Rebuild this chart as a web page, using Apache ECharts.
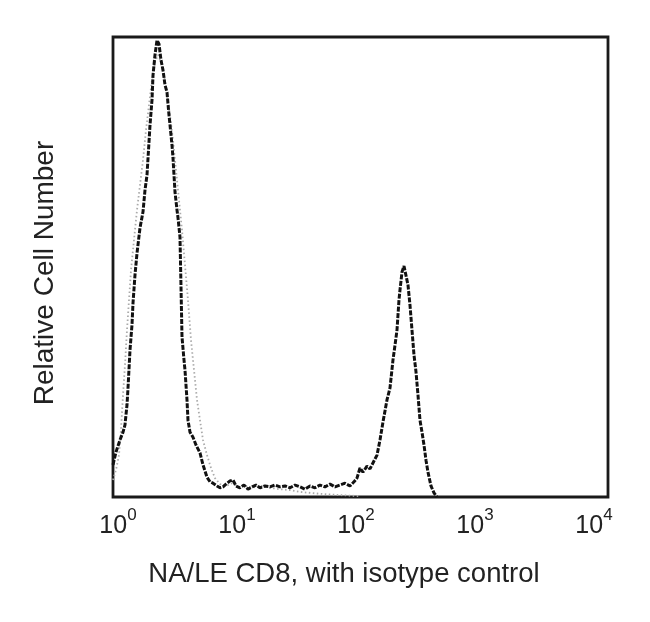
<!DOCTYPE html>
<html>
<head>
<meta charset="utf-8">
<script src="https://cdn.jsdelivr.net/npm/echarts@6/dist/echarts.min.js"></script>
<style>
html,body{margin:0;padding:0;background:#fff;}
#chart{width:650px;height:622px;}
</style>
</head>
<body>
<div id="chart"></div>
<script>
// CD8 stained sample (dark curve): fluorescence intensity and relative count
var cd8X = [1.00,1.060,1.145,1.214,1.261,1.311,1.337,1.390,1.444,1.473,1.531,1.591,1.686,1.787,1.857,1.931,2.047,2.127,2.169,2.254,2.343,2.435,2.531,2.631,2.735,2.843,2.955,3.013,3.132,3.193,3.319,3.450,3.518,3.656,3.728,3.801,3.951,4.027,4.186,4.268,4.437,4.702,4.983,5.384,5.705,6.166,6.534,6.924,7.481,7.929,8.402,8.904,9.621,10.19,10.80,11.68,12.61,13.63,14.73,15.91,17.19,18.94,20.86,22.98,25.32,27.89,30.72,33.84,37.28,41.07,45.24,49.84,54.90,60.48,66.62,73.39,80.86,89.07,98.08,106.0,112.3,119.0,126.1,136.3,144.4,153.0,165.4,175.3,185.7,200.7,212.7,225.4,234.3,243.6,253.1,258.1,268.3,278.9,289.9,301.3,313.2,325.6,338.4,351.8,365.6,380.1,395.1,410.7,426.9,443.7,470.2,498.3,528.1];
var cd8Y = [7.0,9.8,12.4,14.1,15.7,20.0,23.7,32.0,37.4,42.2,48.3,53.0,58.5,62.0,66.7,70.0,80.9,86.3,91.7,96.1,99.3,98.5,95.0,92.8,89.6,88.0,83.0,80.9,76.5,73.7,66.3,62.4,60.7,56.5,45.7,34.8,29.8,27.6,21.1,16.7,14.1,13.0,11.3,9.6,7.0,4.3,3.3,3.0,2.4,2.0,2.2,2.8,3.5,3.7,2.4,2.0,2.6,1.7,2.2,2.6,2.0,2.4,2.2,2.6,2.2,2.4,2.0,2.6,2.2,1.7,2.4,2.0,2.6,2.2,2.8,2.2,2.6,3.0,2.4,3.3,4.1,6.3,5.4,6.7,6.1,7.4,9.1,12.4,16.3,21.1,23.7,29.8,33.0,36.3,42.8,45.0,48.9,50.2,49.8,46.1,41.7,36.3,30.9,27.2,22.2,16.7,14.1,11.3,8.0,5.4,2.4,0.9,0.0];
// Isotype control (light dotted curve)
var isoX = [1.00,1.060,1.123,1.167,1.214,1.261,1.311,1.363,1.417,1.501,1.591,1.686,1.787,1.894,2.007,2.127,2.254,2.388,2.531,2.683,2.843,3.013,3.193,3.384,3.586,3.801,4.027,4.268,4.524,4.794,5.081,5.384,5.705,6.166,6.662,7.197,7.929,8.904,10.00,11.23,12.86,14.73,17.19,20.86,25.32,30.72,37.28,54.90,80.86,119.0];
var isoY = [3.7,5.9,9.1,14.6,22.2,28.7,36.3,42.8,49.3,55.9,62.4,67.8,73.3,79.8,85.2,90.7,94.6,96.1,94.6,91.7,87.4,83.0,77.6,71.1,64.6,58.0,50.4,42.8,34.1,27.6,21.1,16.7,12.4,9.1,6.3,4.1,2.8,2.4,3.0,2.2,2.4,2.0,2.4,2.0,1.7,1.5,1.1,0.7,0.4,0.2];
var xMin = 1, xMax = 14450;
var xTitle = 'NA/LE CD8, with isotype control';
var yTitle = 'Relative Cell Number';

function pairs(xs, ys){ var out=[]; for (var i=0;i<xs.length;i++) out.push([xs[i], ys[i]]); return out; }

var FONT = '"Liberation Sans", Arial, Helvetica, sans-serif';
var chart = echarts.init(document.getElementById('chart'), null, {renderer:'canvas'});
chart.setOption({
  animation: false,
  backgroundColor: '#fff',
  grid: {left:113, top:37, width:495, height:460, show:true, borderColor:'#1a1a1a', borderWidth:2.8, backgroundColor:'transparent'},
  xAxis: {
    type:'log', logBase:10, min:xMin, max:xMax,
    axisLine:{show:false}, axisTick:{show:false}, splitLine:{show:false}, minorTick:{show:false},
    axisLabel:{
      showMaxLabel:false, margin:10, color:'#222', fontSize:25, fontFamily:FONT,
      formatter:function(v){ var e=Math.round(Math.log(v)/Math.LN10); return '{p|}{b|10}{s|'+e+'}'; },
      rich:{
        p:{width:10, height:10},
        b:{fontSize:25, lineHeight:32, fontFamily:FONT, color:'#222', verticalAlign:'bottom'},
        s:{fontSize:17, lineHeight:17, fontFamily:FONT, color:'#222', verticalAlign:'top'}
      }
    }
  },
  yAxis: {
    type:'value', min:0, max:100,
    axisLine:{show:false}, axisTick:{show:false}, splitLine:{show:false}, axisLabel:{show:false}
  },
  series: [
    {type:'line', name:'Isotype control', data:pairs(isoX, isoY), showSymbol:false, z:2,
     lineStyle:{color:'#aaaaaa', width:1.8, type:[1.5,2.5]}},
    {type:'line', name:'CD8', data:pairs(cd8X, cd8Y), showSymbol:false, z:3,
     lineStyle:{color:'#111111', width:3, type:[5,1.5]}}
  ],
  graphic: [
    {type:'text', x:344, y:574, style:{text:xTitle, font:'27.5px '+FONT, fill:'#222', textAlign:'center', textVerticalAlign:'middle'}},
    {type:'text', x:45, y:273, rotation:Math.PI/2, style:{text:yTitle, font:'28px '+FONT, fill:'#222', textAlign:'center', textVerticalAlign:'middle'}}
  ]
});
</script>
</body>
</html>
